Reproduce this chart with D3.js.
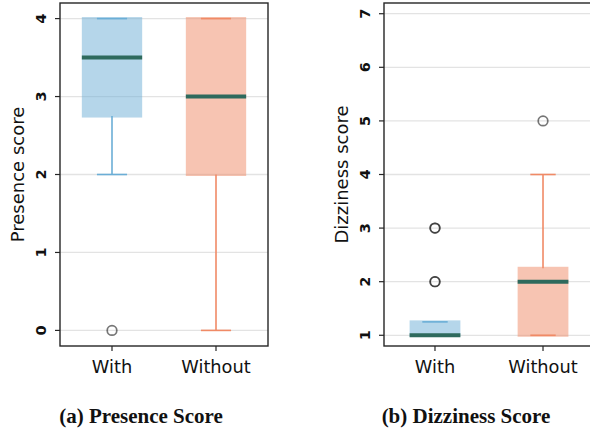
<!DOCTYPE html>
<html>
<head>
<meta charset="utf-8">
<script src="https://cdn.jsdelivr.net/npm/d3@7"></script>
<style>
  body { margin: 0; background: #fff; }
  svg { display: block; }
</style>
</head>
<body>
<svg id="chart" width="590" height="432"></svg>
<script>
// ---------- data ----------
const categories = ["With", "Without"];

// Presence score box statistics per category
const presenceQ1      = [2.75, 2.0];
const presenceMedian  = [3.5, 3.0];
const presenceQ3      = [4.0, 4.0];
const presenceWhiskLo = [2.0, 0.0];
const presenceWhiskHi = [4.0, 4.0];
const presenceFliers  = [[0], []];
const presenceTicks   = [0, 1, 2, 3, 4];

// Dizziness score box statistics per category
const dizzinessQ1      = [1.0, 1.0];
const dizzinessMedian  = [1.0, 2.0];
const dizzinessQ3      = [1.25, 2.25];
const dizzinessWhiskLo = [1.0, 1.0];
const dizzinessWhiskHi = [1.25, 4.0];
const dizzinessFliers  = [[2, 2, 3, 3], [5]];
const dizzinessTicks   = [1, 2, 3, 4, 5, 6, 7];

const subtitles = ["(a) Presence Score", "(b) Dizziness Score"];
const yLabels = ["Presence score", "Dizziness score"];

// ---------- drawing ----------
const colors = ["#6baed6", "#f08a66"];
const medianColor = "#2e6a5d";
const sans = "'DejaVu Sans', sans-serif";
const svg = d3.select("#chart");

function panel(opts) {
  const { left, right, top, bottom, xDomain, yDomain, ticks, q1, med, q3, wlo, whi, fliers,
          boxFrac, yLabel, yLabelX, subtitle, subX } = opts;
  const x = d3.scaleLinear().domain(xDomain).range([left, right]);
  const y = d3.scaleLinear().domain(yDomain).range([bottom, top]);
  const g = svg.append("g");
  const clipId = "clip" + Math.round(left);
  svg.append("clipPath").attr("id", clipId).append("rect")
    .attr("x", left).attr("y", top).attr("width", right - left).attr("height", bottom - top);

  // grid
  g.append("g").selectAll("line").data(ticks).join("line")
    .attr("x1", left).attr("x2", right)
    .attr("y1", d => y(d)).attr("y2", d => y(d))
    .attr("stroke", "#e3e3e3").attr("stroke-width", 1.3);

  const unit = x(2) - x(1);
  const bw = unit * boxFrac;
  const plot = g.append("g").attr("clip-path", `url(#${clipId})`);

  categories.forEach((c, i) => {
    const cx = x(i + 1);
    const col = colors[i];
    // box
    plot.append("rect")
      .attr("x", cx - bw / 2).attr("width", bw)
      .attr("y", y(q3[i]) - 1.5).attr("height", y(q1[i]) - y(q3[i]) + 3)
      .attr("fill", col).attr("fill-opacity", 0.5);
    // whiskers
    plot.append("line").attr("x1", cx).attr("x2", cx)
      .attr("y1", y(q1[i])).attr("y2", y(wlo[i]))
      .attr("stroke", col).attr("stroke-width", 1.6);
    plot.append("line").attr("x1", cx).attr("x2", cx)
      .attr("y1", y(q3[i])).attr("y2", y(whi[i]))
      .attr("stroke", col).attr("stroke-width", 1.6);
    // caps
    [wlo[i], whi[i]].forEach(v => {
      plot.append("line").attr("x1", cx - bw / 4).attr("x2", cx + bw / 4)
        .attr("y1", y(v)).attr("y2", y(v))
        .attr("stroke", col).attr("stroke-width", 1.6);
    });
    // median
    plot.append("line").attr("x1", cx - bw / 2).attr("x2", cx + bw / 2)
      .attr("y1", y(med[i])).attr("y2", y(med[i]))
      .attr("stroke", medianColor).attr("stroke-width", 4);
    // fliers
    plot.selectAll(null).data(fliers[i]).join("circle")
      .attr("cx", cx).attr("cy", d => y(d)).attr("r", 4.8)
      .attr("fill", "none").attr("stroke", "#222")
      .attr("stroke-opacity", 0.62).attr("stroke-width", 1.7);
  });

  // frame
  g.append("rect").attr("x", left).attr("y", top)
    .attr("width", right - left).attr("height", bottom - top)
    .attr("fill", "none").attr("stroke", "#262626").attr("stroke-width", 1.4);

  // y ticks
  const yt = g.append("g");
  ticks.forEach(t => {
    yt.append("line").attr("x1", left - 5).attr("x2", left)
      .attr("y1", y(t)).attr("y2", y(t)).attr("stroke", "#262626").attr("stroke-width", 1.2);
    yt.append("text")
      .attr("transform", `translate(${left - 14},${y(t)}) rotate(-90)`)
      .attr("text-anchor", "middle")
      .attr("font-family", sans).attr("font-weight", "bold").attr("font-size", 14.5)
      .attr("fill", "#111")
      .text(t);
  });
  // x ticks
  categories.forEach((c, i) => {
    const cx = x(i + 1);
    g.append("line").attr("x1", cx).attr("x2", cx).attr("y1", bottom).attr("y2", bottom + 5)
      .attr("stroke", "#262626").attr("stroke-width", 1.2);
    g.append("text").attr("x", cx).attr("y", bottom + 27)
      .attr("text-anchor", "middle")
      .attr("font-family", sans).attr("font-size", 17.8)
      .attr("fill", "#111").text(c);
  });
  // y label
  g.append("text")
    .attr("transform", `translate(${yLabelX},${(top + bottom) / 2}) rotate(-90)`)
    .attr("text-anchor", "middle")
    .attr("font-family", sans).attr("font-size", 18)
    .attr("fill", "#111").text(yLabel);
  // subtitle
  g.append("text").attr("x", subX).attr("y", 423)
    .attr("text-anchor", "middle")
    .attr("font-family", "'Liberation Serif', serif").attr("font-weight", "bold").attr("font-size", 21)
    .attr("fill", "#111").text(subtitle);
}

panel({
  left: 60, right: 268, top: 3, bottom: 346,
  xDomain: [0.5, 2.5], yDomain: [-0.2, 4.2], ticks: presenceTicks,
  q1: presenceQ1, med: presenceMedian, q3: presenceQ3,
  wlo: presenceWhiskLo, whi: presenceWhiskHi, fliers: presenceFliers,
  boxFrac: 0.58, yLabel: yLabels[0], yLabelX: 24, subtitle: subtitles[0], subX: 141
});

panel({
  left: 384, right: 594, top: 3, bottom: 346,
  xDomain: [0.528, 2.472], yDomain: [0.8, 7.2], ticks: dizzinessTicks,
  q1: dizzinessQ1, med: dizzinessMedian, q3: dizzinessQ3,
  wlo: dizzinessWhiskLo, whi: dizzinessWhiskHi, fliers: dizzinessFliers,
  boxFrac: 0.47, yLabel: yLabels[1], yLabelX: 348, subtitle: subtitles[1], subX: 466
});
</script>
</body>
</html>
